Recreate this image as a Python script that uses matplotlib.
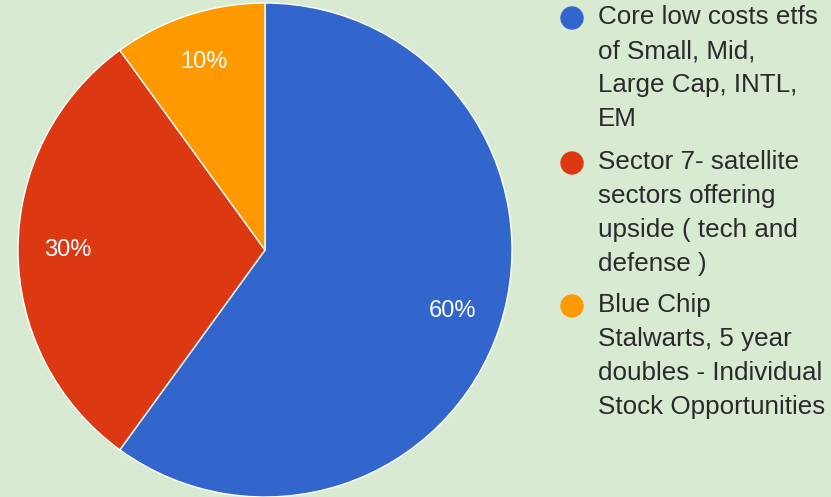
import matplotlib
matplotlib.use("Agg")
import matplotlib.pyplot as plt
from matplotlib.patches import Circle

categories = [
    ["Core low costs etfs", "of Small, Mid,", "Large Cap, INTL,", "EM"],
    ["Sector 7- satellite", "sectors offering", "upside ( tech and", "defense )"],
    ["Blue Chip", "Stalwarts, 5 year", "doubles - Individual", "Stock Opportunities"],
]
shares = [60, 30, 10]
colors = ["#3366cc", "#dc3912", "#ff9900"]
bg = "#d9ead3"

W, H = 831, 497
plt.rcParams["font.family"] = ["Liberation Sans", "DejaVu Sans"]

fig = plt.figure(figsize=(W / 100, H / 100), dpi=100, facecolor=bg)
ax = fig.add_axes([0, 0, 1, 1])
ax.set_facecolor(bg)

# work in pixel-like coordinates, y measured from the bottom
ax.pie(
    shares,
    colors=colors,
    startangle=90,
    counterclock=False,
    center=(265, H - 250),
    radius=247,
    autopct="%d%%",
    pctdistance=0.8,
    wedgeprops=dict(edgecolor="white", linewidth=1.0),
    textprops=dict(color="white", fontsize=17),
    frame=True,
)
ax.set_xlim(0, W)
ax.set_ylim(0, H)
ax.set_aspect("equal")
ax.axis("off")

# legend
line_h = 34
starts = [17, 162, 305]
for lines, col, y0 in zip(categories, colors, starts):
    ax.add_patch(Circle((572, H - (y0 + 1)), 11, color=col, zorder=3))
    for i, ln in enumerate(lines):
        ax.text(598, H - (y0 + i * line_h), ln, fontsize=18.7, color="#2a2a2a",
                va="center", ha="left")

fig.savefig("out.png", dpi=100, facecolor=bg)
